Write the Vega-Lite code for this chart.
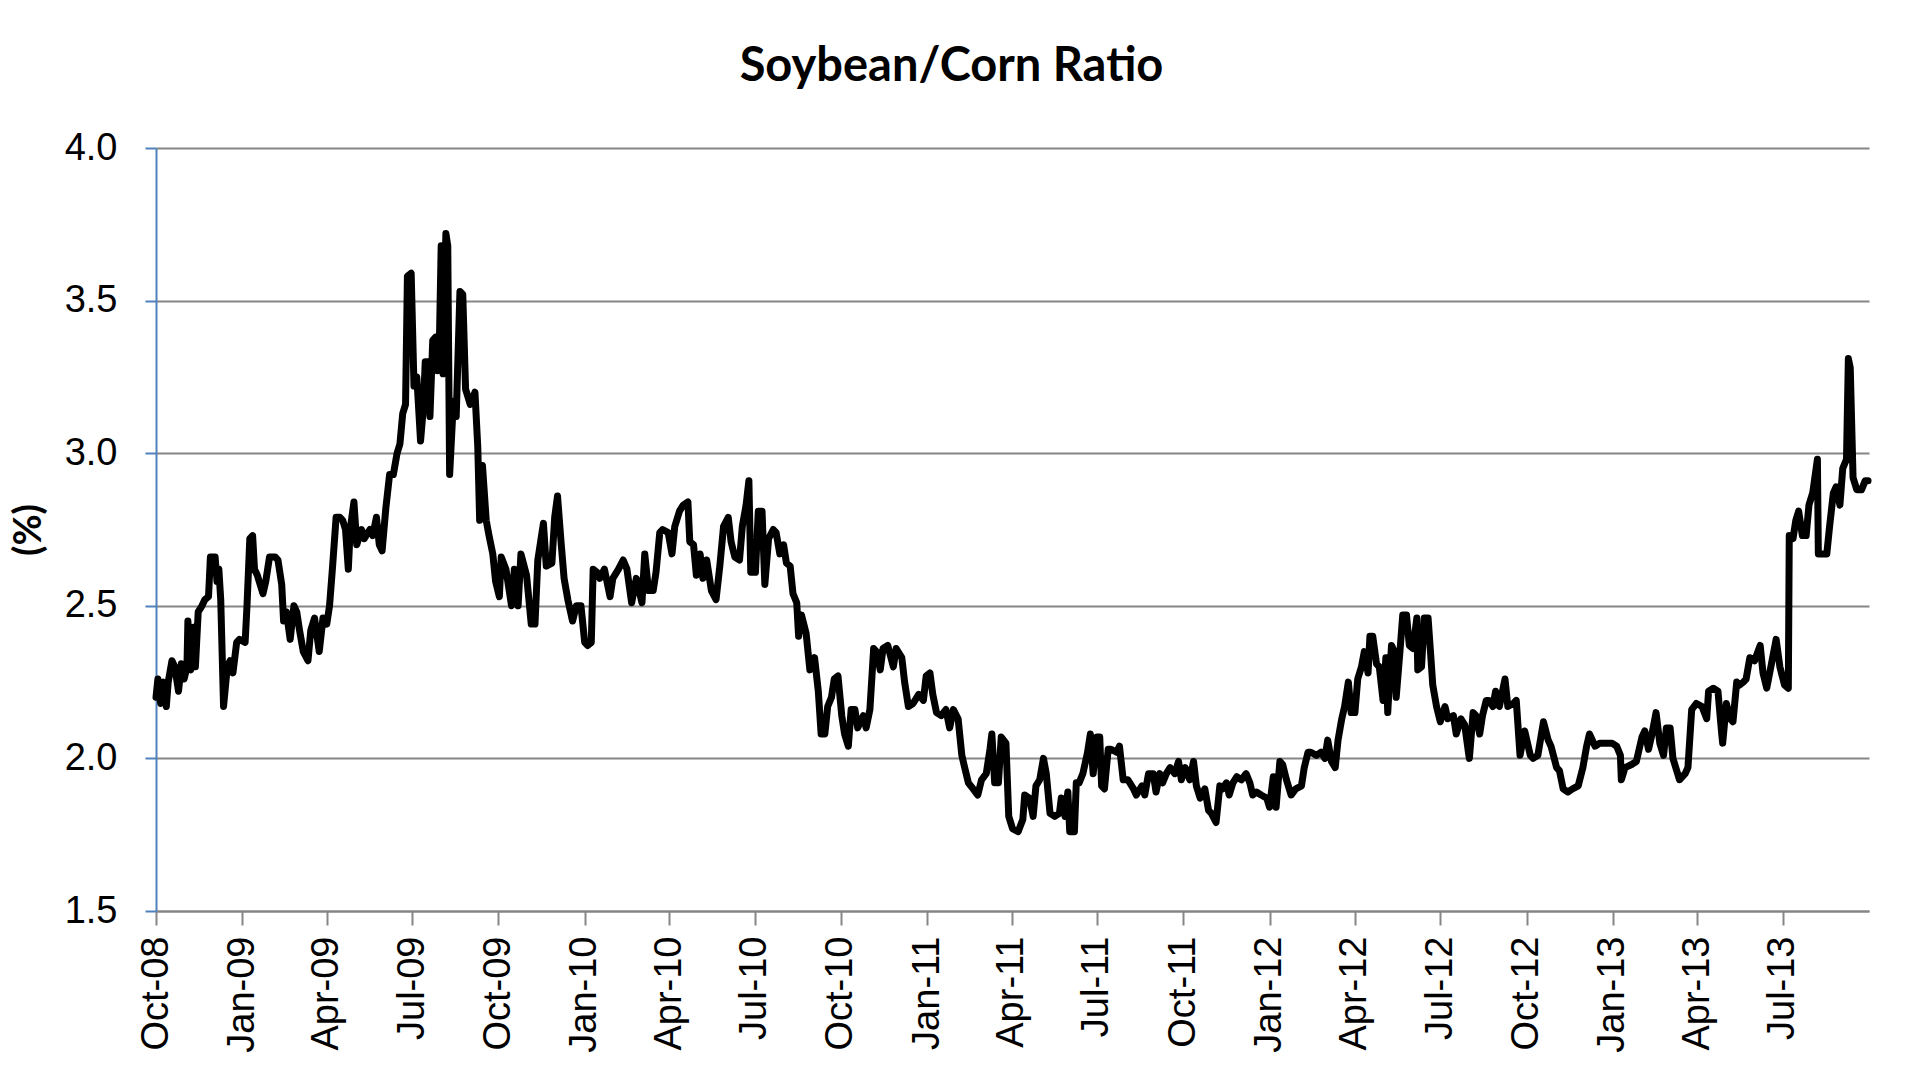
{
  "$schema": "https://vega.github.io/schema/vega-lite/v6.json",
  "width": 1713,
  "height": 763,
  "autosize": {"type": "none"},
  "padding": {"left": 156, "top": 148, "right": 46, "bottom": 176},
  "background": "white",
  "title": {"text": "Soybean/Corn Ratio", "font": "Lato", "fontSize": 47, "fontWeight": "bold", "color": "black", "anchor": "middle", "frame": "group", "dx": -61, "offset": 38},
  "data": {"values": [
    {"date":"2008-10-01","ratio":2.20},{"date":"2008-10-03","ratio":2.26},{"date":"2008-10-06","ratio":2.18},{"date":"2008-10-09","ratio":2.25},{"date":"2008-10-12","ratio":2.17},{"date":"2008-10-14","ratio":2.25},{"date":"2008-10-18","ratio":2.32},{"date":"2008-10-21","ratio":2.30},{"date":"2008-10-25","ratio":2.22},{"date":"2008-10-28","ratio":2.31},{"date":"2008-10-31","ratio":2.26},
    {"date":"2008-11-03","ratio":2.30},{"date":"2008-11-04","ratio":2.45},{"date":"2008-11-07","ratio":2.29},{"date":"2008-11-10","ratio":2.43},{"date":"2008-11-12","ratio":2.30},{"date":"2008-11-15","ratio":2.48},{"date":"2008-11-19","ratio":2.50},{"date":"2008-11-22","ratio":2.52},{"date":"2008-11-26","ratio":2.53},{"date":"2008-11-28","ratio":2.66},
    {"date":"2008-12-03","ratio":2.66},{"date":"2008-12-05","ratio":2.58},{"date":"2008-12-07","ratio":2.62},{"date":"2008-12-09","ratio":2.52},{"date":"2008-12-12","ratio":2.17},{"date":"2008-12-16","ratio":2.30},{"date":"2008-12-19","ratio":2.32},{"date":"2008-12-22","ratio":2.28},{"date":"2008-12-26","ratio":2.38},{"date":"2008-12-29","ratio":2.39},
    {"date":"2009-01-04","ratio":2.38},{"date":"2009-01-06","ratio":2.50},{"date":"2009-01-09","ratio":2.72},{"date":"2009-01-12","ratio":2.73},{"date":"2009-01-14","ratio":2.62},{"date":"2009-01-17","ratio":2.60},{"date":"2009-01-23","ratio":2.54},{"date":"2009-01-26","ratio":2.58},{"date":"2009-01-30","ratio":2.66},
    {"date":"2009-02-05","ratio":2.66},{"date":"2009-02-08","ratio":2.65},{"date":"2009-02-12","ratio":2.57},{"date":"2009-02-14","ratio":2.45},{"date":"2009-02-17","ratio":2.48},{"date":"2009-02-21","ratio":2.39},{"date":"2009-02-25","ratio":2.50},{"date":"2009-02-28","ratio":2.48},
    {"date":"2009-03-03","ratio":2.42},{"date":"2009-03-07","ratio":2.35},{"date":"2009-03-12","ratio":2.32},{"date":"2009-03-15","ratio":2.42},{"date":"2009-03-19","ratio":2.46},{"date":"2009-03-24","ratio":2.35},{"date":"2009-03-28","ratio":2.46},
    {"date":"2009-04-01","ratio":2.44},{"date":"2009-04-04","ratio":2.50},{"date":"2009-04-07","ratio":2.62},{"date":"2009-04-11","ratio":2.79},{"date":"2009-04-15","ratio":2.79},{"date":"2009-04-18","ratio":2.78},{"date":"2009-04-21","ratio":2.75},{"date":"2009-04-24","ratio":2.62},{"date":"2009-04-26","ratio":2.75},{"date":"2009-04-30","ratio":2.84},
    {"date":"2009-05-03","ratio":2.70},{"date":"2009-05-08","ratio":2.75},{"date":"2009-05-11","ratio":2.72},{"date":"2009-05-17","ratio":2.75},{"date":"2009-05-20","ratio":2.73},{"date":"2009-05-24","ratio":2.79},{"date":"2009-05-27","ratio":2.70},{"date":"2009-05-30","ratio":2.68},
    {"date":"2009-06-03","ratio":2.82},{"date":"2009-06-07","ratio":2.93},{"date":"2009-06-11","ratio":2.93},{"date":"2009-06-15","ratio":3.00},{"date":"2009-06-18","ratio":3.03},{"date":"2009-06-21","ratio":3.13},{"date":"2009-06-24","ratio":3.16},{"date":"2009-06-26","ratio":3.58},{"date":"2009-06-30","ratio":3.59},
    {"date":"2009-07-03","ratio":3.22},{"date":"2009-07-06","ratio":3.25},{"date":"2009-07-10","ratio":3.04},{"date":"2009-07-13","ratio":3.15},{"date":"2009-07-15","ratio":3.30},{"date":"2009-07-18","ratio":3.30},{"date":"2009-07-20","ratio":3.12},{"date":"2009-07-23","ratio":3.37},{"date":"2009-07-26","ratio":3.38},{"date":"2009-07-28","ratio":3.27},{"date":"2009-07-30","ratio":3.35},
    {"date":"2009-08-01","ratio":3.68},{"date":"2009-08-03","ratio":3.26},{"date":"2009-08-06","ratio":3.72},{"date":"2009-08-08","ratio":3.68},{"date":"2009-08-10","ratio":2.93},{"date":"2009-08-14","ratio":3.17},{"date":"2009-08-17","ratio":3.12},{"date":"2009-08-21","ratio":3.53},{"date":"2009-08-24","ratio":3.52},{"date":"2009-08-27","ratio":3.21},
    {"date":"2009-09-01","ratio":3.16},{"date":"2009-09-06","ratio":3.20},{"date":"2009-09-09","ratio":3.02},{"date":"2009-09-11","ratio":2.78},{"date":"2009-09-14","ratio":2.96},{"date":"2009-09-18","ratio":2.78},{"date":"2009-09-21","ratio":2.73},{"date":"2009-09-25","ratio":2.67},{"date":"2009-09-28","ratio":2.58},
    {"date":"2009-10-02","ratio":2.53},{"date":"2009-10-04","ratio":2.66},{"date":"2009-10-09","ratio":2.62},{"date":"2009-10-15","ratio":2.50},{"date":"2009-10-18","ratio":2.62},{"date":"2009-10-22","ratio":2.50},{"date":"2009-10-25","ratio":2.67},{"date":"2009-10-31","ratio":2.60},
    {"date":"2009-11-05","ratio":2.44},{"date":"2009-11-09","ratio":2.44},{"date":"2009-11-12","ratio":2.65},{"date":"2009-11-18","ratio":2.77},{"date":"2009-11-21","ratio":2.63},{"date":"2009-11-27","ratio":2.64},{"date":"2009-11-30","ratio":2.79},
    {"date":"2009-12-03","ratio":2.86},{"date":"2009-12-07","ratio":2.70},{"date":"2009-12-10","ratio":2.59},{"date":"2009-12-14","ratio":2.52},{"date":"2009-12-19","ratio":2.45},{"date":"2009-12-23","ratio":2.50},{"date":"2009-12-28","ratio":2.50},
    {"date":"2010-01-01","ratio":2.38},{"date":"2010-01-04","ratio":2.37},{"date":"2010-01-08","ratio":2.38},{"date":"2010-01-10","ratio":2.62},{"date":"2010-01-14","ratio":2.61},{"date":"2010-01-17","ratio":2.59},{"date":"2010-01-22","ratio":2.62},{"date":"2010-01-28","ratio":2.53},{"date":"2010-01-31","ratio":2.59},
    {"date":"2010-02-06","ratio":2.62},{"date":"2010-02-11","ratio":2.65},{"date":"2010-02-15","ratio":2.62},{"date":"2010-02-20","ratio":2.51},{"date":"2010-02-25","ratio":2.59},
    {"date":"2010-03-03","ratio":2.51},{"date":"2010-03-06","ratio":2.67},{"date":"2010-03-10","ratio":2.55},{"date":"2010-03-15","ratio":2.55},{"date":"2010-03-18","ratio":2.61},{"date":"2010-03-22","ratio":2.74},{"date":"2010-03-25","ratio":2.75},{"date":"2010-03-31","ratio":2.74},
    {"date":"2010-04-04","ratio":2.67},{"date":"2010-04-07","ratio":2.76},{"date":"2010-04-12","ratio":2.81},{"date":"2010-04-16","ratio":2.83},{"date":"2010-04-21","ratio":2.84},{"date":"2010-04-23","ratio":2.71},{"date":"2010-04-27","ratio":2.70},{"date":"2010-04-30","ratio":2.60},
    {"date":"2010-05-04","ratio":2.67},{"date":"2010-05-07","ratio":2.59},{"date":"2010-05-11","ratio":2.65},{"date":"2010-05-16","ratio":2.55},{"date":"2010-05-21","ratio":2.52},{"date":"2010-05-25","ratio":2.63},{"date":"2010-05-29","ratio":2.76},
    {"date":"2010-06-03","ratio":2.79},{"date":"2010-06-06","ratio":2.71},{"date":"2010-06-10","ratio":2.66},{"date":"2010-06-15","ratio":2.65},{"date":"2010-06-18","ratio":2.76},{"date":"2010-06-22","ratio":2.83},{"date":"2010-06-25","ratio":2.91},{"date":"2010-06-27","ratio":2.61},
    {"date":"2010-07-02","ratio":2.61},{"date":"2010-07-05","ratio":2.81},{"date":"2010-07-09","ratio":2.81},{"date":"2010-07-12","ratio":2.57},{"date":"2010-07-16","ratio":2.72},{"date":"2010-07-21","ratio":2.75},{"date":"2010-07-24","ratio":2.74},{"date":"2010-07-28","ratio":2.67},
    {"date":"2010-08-01","ratio":2.70},{"date":"2010-08-04","ratio":2.64},{"date":"2010-08-08","ratio":2.63},{"date":"2010-08-11","ratio":2.54},{"date":"2010-08-15","ratio":2.51},{"date":"2010-08-17","ratio":2.40},{"date":"2010-08-20","ratio":2.47},{"date":"2010-08-25","ratio":2.41},{"date":"2010-08-29","ratio":2.29},
    {"date":"2010-09-03","ratio":2.33},{"date":"2010-09-07","ratio":2.22},{"date":"2010-09-10","ratio":2.08},{"date":"2010-09-14","ratio":2.08},{"date":"2010-09-17","ratio":2.17},{"date":"2010-09-21","ratio":2.20},{"date":"2010-09-24","ratio":2.26},{"date":"2010-09-28","ratio":2.27},
    {"date":"2010-10-02","ratio":2.14},{"date":"2010-10-05","ratio":2.08},{"date":"2010-10-09","ratio":2.04},{"date":"2010-10-12","ratio":2.16},{"date":"2010-10-16","ratio":2.16},{"date":"2010-10-19","ratio":2.10},{"date":"2010-10-25","ratio":2.14},{"date":"2010-10-28","ratio":2.10},
    {"date":"2010-11-01","ratio":2.16},{"date":"2010-11-05","ratio":2.36},{"date":"2010-11-08","ratio":2.35},{"date":"2010-11-12","ratio":2.29},{"date":"2010-11-15","ratio":2.36},{"date":"2010-11-20","ratio":2.37},{"date":"2010-11-26","ratio":2.30},{"date":"2010-11-29","ratio":2.36},
    {"date":"2010-12-05","ratio":2.33},{"date":"2010-12-08","ratio":2.25},{"date":"2010-12-12","ratio":2.17},{"date":"2010-12-17","ratio":2.18},{"date":"2010-12-23","ratio":2.21},{"date":"2010-12-28","ratio":2.19},{"date":"2010-12-31","ratio":2.27},
    {"date":"2011-01-04","ratio":2.28},{"date":"2011-01-07","ratio":2.21},{"date":"2011-01-11","ratio":2.15},{"date":"2011-01-16","ratio":2.14},{"date":"2011-01-21","ratio":2.16},{"date":"2011-01-25","ratio":2.10},{"date":"2011-01-29","ratio":2.16},
    {"date":"2011-02-03","ratio":2.13},{"date":"2011-02-07","ratio":2.01},{"date":"2011-02-10","ratio":1.97},{"date":"2011-02-14","ratio":1.92},{"date":"2011-02-19","ratio":1.90},{"date":"2011-02-24","ratio":1.88},{"date":"2011-02-28","ratio":1.93},
    {"date":"2011-03-05","ratio":1.95},{"date":"2011-03-09","ratio":2.03},{"date":"2011-03-11","ratio":2.08},{"date":"2011-03-14","ratio":1.92},{"date":"2011-03-18","ratio":1.92},{"date":"2011-03-21","ratio":2.07},{"date":"2011-03-26","ratio":2.05},{"date":"2011-03-29","ratio":1.81},
    {"date":"2011-04-02","ratio":1.77},{"date":"2011-04-08","ratio":1.76},{"date":"2011-04-13","ratio":1.80},{"date":"2011-04-15","ratio":1.88},{"date":"2011-04-20","ratio":1.87},{"date":"2011-04-24","ratio":1.81},{"date":"2011-04-27","ratio":1.91},
    {"date":"2011-05-01","ratio":1.93},{"date":"2011-05-05","ratio":2.00},{"date":"2011-05-08","ratio":1.95},{"date":"2011-05-12","ratio":1.82},{"date":"2011-05-17","ratio":1.81},{"date":"2011-05-22","ratio":1.82},{"date":"2011-05-24","ratio":1.87},{"date":"2011-05-28","ratio":1.81},{"date":"2011-05-31","ratio":1.89},
    {"date":"2011-06-02","ratio":1.76},{"date":"2011-06-07","ratio":1.76},{"date":"2011-06-09","ratio":1.92},{"date":"2011-06-12","ratio":1.92},{"date":"2011-06-16","ratio":1.95},{"date":"2011-06-21","ratio":2.02},{"date":"2011-06-24","ratio":2.08},{"date":"2011-06-27","ratio":1.95},
    {"date":"2011-07-01","ratio":2.07},{"date":"2011-07-04","ratio":2.07},{"date":"2011-07-06","ratio":1.91},{"date":"2011-07-09","ratio":1.90},{"date":"2011-07-13","ratio":2.03},{"date":"2011-07-16","ratio":2.03},{"date":"2011-07-22","ratio":2.02},{"date":"2011-07-25","ratio":2.04},{"date":"2011-07-29","ratio":1.93},
    {"date":"2011-08-03","ratio":1.93},{"date":"2011-08-09","ratio":1.90},{"date":"2011-08-12","ratio":1.88},{"date":"2011-08-18","ratio":1.91},{"date":"2011-08-21","ratio":1.88},{"date":"2011-08-25","ratio":1.95},{"date":"2011-08-30","ratio":1.95},
    {"date":"2011-09-02","ratio":1.89},{"date":"2011-09-06","ratio":1.95},{"date":"2011-09-09","ratio":1.92},{"date":"2011-09-13","ratio":1.95},{"date":"2011-09-17","ratio":1.97},{"date":"2011-09-22","ratio":1.95},{"date":"2011-09-26","ratio":1.99},{"date":"2011-09-29","ratio":1.93},
    {"date":"2011-10-03","ratio":1.97},{"date":"2011-10-08","ratio":1.93},{"date":"2011-10-12","ratio":1.99},{"date":"2011-10-15","ratio":1.91},{"date":"2011-10-19","ratio":1.87},{"date":"2011-10-24","ratio":1.90},{"date":"2011-10-28","ratio":1.83},{"date":"2011-10-31","ratio":1.82},
    {"date":"2011-11-05","ratio":1.79},{"date":"2011-11-09","ratio":1.91},{"date":"2011-11-12","ratio":1.90},{"date":"2011-11-16","ratio":1.92},{"date":"2011-11-19","ratio":1.88},{"date":"2011-11-23","ratio":1.92},{"date":"2011-11-27","ratio":1.94},
    {"date":"2011-12-02","ratio":1.93},{"date":"2011-12-07","ratio":1.95},{"date":"2011-12-11","ratio":1.92},{"date":"2011-12-14","ratio":1.88},{"date":"2011-12-18","ratio":1.89},{"date":"2011-12-23","ratio":1.88},{"date":"2011-12-29","ratio":1.87},
    {"date":"2012-01-01","ratio":1.84},{"date":"2012-01-05","ratio":1.94},{"date":"2012-01-08","ratio":1.84},{"date":"2012-01-12","ratio":1.99},{"date":"2012-01-15","ratio":1.98},{"date":"2012-01-19","ratio":1.93},{"date":"2012-01-24","ratio":1.88},{"date":"2012-01-29","ratio":1.90},
    {"date":"2012-02-04","ratio":1.91},{"date":"2012-02-07","ratio":1.97},{"date":"2012-02-11","ratio":2.02},{"date":"2012-02-14","ratio":2.02},{"date":"2012-02-20","ratio":2.01},{"date":"2012-02-25","ratio":2.02},{"date":"2012-02-29","ratio":2.00},
    {"date":"2012-03-03","ratio":2.06},{"date":"2012-03-07","ratio":1.99},{"date":"2012-03-11","ratio":1.97},{"date":"2012-03-14","ratio":2.06},{"date":"2012-03-18","ratio":2.13},{"date":"2012-03-21","ratio":2.17},{"date":"2012-03-25","ratio":2.25},{"date":"2012-03-28","ratio":2.15},
    {"date":"2012-04-01","ratio":2.15},{"date":"2012-04-04","ratio":2.26},{"date":"2012-04-08","ratio":2.30},{"date":"2012-04-11","ratio":2.35},{"date":"2012-04-15","ratio":2.28},{"date":"2012-04-17","ratio":2.40},{"date":"2012-04-20","ratio":2.40},{"date":"2012-04-24","ratio":2.31},{"date":"2012-04-27","ratio":2.30},
    {"date":"2012-05-01","ratio":2.19},{"date":"2012-05-04","ratio":2.33},{"date":"2012-05-06","ratio":2.15},{"date":"2012-05-10","ratio":2.37},{"date":"2012-05-13","ratio":2.35},{"date":"2012-05-15","ratio":2.20},{"date":"2012-05-19","ratio":2.35},{"date":"2012-05-22","ratio":2.47},{"date":"2012-05-26","ratio":2.47},{"date":"2012-05-29","ratio":2.37},
    {"date":"2012-06-02","ratio":2.36},{"date":"2012-06-06","ratio":2.46},{"date":"2012-06-07","ratio":2.29},{"date":"2012-06-11","ratio":2.30},{"date":"2012-06-14","ratio":2.46},{"date":"2012-06-18","ratio":2.46},{"date":"2012-06-21","ratio":2.33},{"date":"2012-06-23","ratio":2.24},{"date":"2012-06-27","ratio":2.17},
    {"date":"2012-07-01","ratio":2.12},{"date":"2012-07-06","ratio":2.17},{"date":"2012-07-09","ratio":2.13},{"date":"2012-07-15","ratio":2.14},{"date":"2012-07-18","ratio":2.08},{"date":"2012-07-23","ratio":2.13},{"date":"2012-07-27","ratio":2.11},{"date":"2012-07-31","ratio":2.02},
    {"date":"2012-08-01","ratio":2.00},{"date":"2012-08-05","ratio":2.15},{"date":"2012-08-08","ratio":2.14},{"date":"2012-08-12","ratio":2.08},{"date":"2012-08-15","ratio":2.14},{"date":"2012-08-19","ratio":2.19},{"date":"2012-08-22","ratio":2.19},{"date":"2012-08-26","ratio":2.17},{"date":"2012-08-29","ratio":2.22},
    {"date":"2012-09-02","ratio":2.17},{"date":"2012-09-08","ratio":2.26},{"date":"2012-09-11","ratio":2.17},{"date":"2012-09-17","ratio":2.18},{"date":"2012-09-20","ratio":2.19},{"date":"2012-09-24","ratio":2.01},{"date":"2012-09-29","ratio":2.09},
    {"date":"2012-10-05","ratio":2.01},{"date":"2012-10-08","ratio":2.00},{"date":"2012-10-13","ratio":2.01},{"date":"2012-10-19","ratio":2.12},{"date":"2012-10-24","ratio":2.06},{"date":"2012-10-27","ratio":2.04},
    {"date":"2012-11-02","ratio":1.97},{"date":"2012-11-05","ratio":1.96},{"date":"2012-11-09","ratio":1.90},{"date":"2012-11-14","ratio":1.89},{"date":"2012-11-19","ratio":1.90},{"date":"2012-11-25","ratio":1.91},{"date":"2012-11-30","ratio":1.97},
    {"date":"2012-12-04","ratio":2.04},{"date":"2012-12-07","ratio":2.08},{"date":"2012-12-13","ratio":2.04},{"date":"2012-12-18","ratio":2.05},{"date":"2012-12-25","ratio":2.05},{"date":"2012-12-31","ratio":2.05},
    {"date":"2013-01-05","ratio":2.04},{"date":"2013-01-09","ratio":2.01},{"date":"2013-01-10","ratio":1.93},{"date":"2013-01-14","ratio":1.97},{"date":"2013-01-21","ratio":1.98},{"date":"2013-01-26","ratio":1.99},
    {"date":"2013-02-01","ratio":2.07},{"date":"2013-02-04","ratio":2.09},{"date":"2013-02-08","ratio":2.03},{"date":"2013-02-11","ratio":2.07},{"date":"2013-02-16","ratio":2.15},{"date":"2013-02-20","ratio":2.05},{"date":"2013-02-24","ratio":2.01},{"date":"2013-02-27","ratio":2.10},
    {"date":"2013-03-03","ratio":2.10},{"date":"2013-03-06","ratio":2.00},{"date":"2013-03-13","ratio":1.93},{"date":"2013-03-19","ratio":1.95},{"date":"2013-03-22","ratio":1.97},{"date":"2013-03-26","ratio":2.16},{"date":"2013-03-31","ratio":2.18},
    {"date":"2013-04-06","ratio":2.17},{"date":"2013-04-11","ratio":2.13},{"date":"2013-04-13","ratio":2.22},{"date":"2013-04-18","ratio":2.23},{"date":"2013-04-23","ratio":2.22},{"date":"2013-04-27","ratio":2.08},{"date":"2013-04-28","ratio":2.05},
    {"date":"2013-05-02","ratio":2.18},{"date":"2013-05-06","ratio":2.13},{"date":"2013-05-09","ratio":2.12},{"date":"2013-05-13","ratio":2.25},{"date":"2013-05-16","ratio":2.24},{"date":"2013-05-20","ratio":2.25},{"date":"2013-05-23","ratio":2.26},{"date":"2013-05-27","ratio":2.33},
    {"date":"2013-06-01","ratio":2.32},{"date":"2013-06-07","ratio":2.37},{"date":"2013-06-10","ratio":2.28},{"date":"2013-06-14","ratio":2.23},{"date":"2013-06-19","ratio":2.31},{"date":"2013-06-24","ratio":2.39},{"date":"2013-06-28","ratio":2.30},
    {"date":"2013-07-03","ratio":2.24},{"date":"2013-07-07","ratio":2.23},{"date":"2013-07-08","ratio":2.73},{"date":"2013-07-12","ratio":2.72},{"date":"2013-07-15","ratio":2.78},{"date":"2013-07-18","ratio":2.81},{"date":"2013-07-22","ratio":2.73},{"date":"2013-07-26","ratio":2.73},{"date":"2013-07-29","ratio":2.83},
    {"date":"2013-08-02","ratio":2.87},{"date":"2013-08-07","ratio":2.98},{"date":"2013-08-08","ratio":2.67},{"date":"2013-08-11","ratio":2.67},{"date":"2013-08-17","ratio":2.67},{"date":"2013-08-20","ratio":2.76},{"date":"2013-08-24","ratio":2.87},{"date":"2013-08-27","ratio":2.89},{"date":"2013-08-31","ratio":2.83},
    {"date":"2013-09-03","ratio":2.95},{"date":"2013-09-07","ratio":2.98},{"date":"2013-09-09","ratio":3.31},{"date":"2013-09-11","ratio":3.28},{"date":"2013-09-14","ratio":2.92},{"date":"2013-09-18","ratio":2.88},{"date":"2013-09-23","ratio":2.88},{"date":"2013-09-27","ratio":2.91},{"date":"2013-09-30","ratio":2.91}
  ]},
  "mark": {"type": "line", "color": "black", "strokeWidth": 7, "strokeJoin": "round", "strokeCap": "round"},
  "encoding": {
    "x": {
      "field": "date", "type": "temporal",
      "scale": {"type": "utc", "domain": [{"year": 2008, "month": 10, "date": 1, "utc": true}, {"year": 2013, "month": 10, "date": 1, "utc": true}]},
      "axis": {
        "title": null,
        "labelExpr": "utcFormat(datum.value, '%b-%y')",
        "values": [
          {"year": 2008, "month": 10, "date": 1, "utc": true},
          {"year": 2009, "month": 1, "date": 1, "utc": true},{"year": 2009, "month": 4, "date": 1, "utc": true},{"year": 2009, "month": 7, "date": 1, "utc": true},{"year": 2009, "month": 10, "date": 1, "utc": true},
          {"year": 2010, "month": 1, "date": 1, "utc": true},{"year": 2010, "month": 4, "date": 1, "utc": true},{"year": 2010, "month": 7, "date": 1, "utc": true},{"year": 2010, "month": 10, "date": 1, "utc": true},
          {"year": 2011, "month": 1, "date": 1, "utc": true},{"year": 2011, "month": 4, "date": 1, "utc": true},{"year": 2011, "month": 7, "date": 1, "utc": true},{"year": 2011, "month": 10, "date": 1, "utc": true},
          {"year": 2012, "month": 1, "date": 1, "utc": true},{"year": 2012, "month": 4, "date": 1, "utc": true},{"year": 2012, "month": 7, "date": 1, "utc": true},{"year": 2012, "month": 10, "date": 1, "utc": true},
          {"year": 2013, "month": 1, "date": 1, "utc": true},{"year": 2013, "month": 4, "date": 1, "utc": true},{"year": 2013, "month": 7, "date": 1, "utc": true}
        ],
        "labelAngle": 270, "labelFont": "Liberation Sans", "labelFontSize": 38, "labelColor": "black", "labelPadding": 11,
        "tickSize": 14, "tickColor": "#868686", "tickWidth": 2, "domainColor": "#868686", "domainWidth": 2,
        "grid": false, "labelOverlap": false, "labelFlush": false
      }
    },
    "y": {
      "field": "ratio", "type": "quantitative",
      "scale": {"domain": [1.5, 4], "nice": false, "zero": false},
      "axis": {
        "title": "(%)", "titleFont": "Lato", "titleFontSize": 38, "titleFontWeight": "bold", "titleColor": "black", "titlePadding": 16,
        "values": [1.5, 2, 2.5, 3, 3.5, 4], "format": ".1f",
        "labelFont": "Liberation Sans", "labelFontSize": 38, "labelColor": "black", "labelPadding": 28, "labelFlush": false,
        "tickSize": 11, "tickColor": "#4F81BD", "tickWidth": 2, "domainColor": "#4F81BD", "domainWidth": 2,
        "grid": true, "gridColor": "#868686", "gridWidth": 2
      }
    }
  },
  "config": {"view": {"stroke": null}}
}
